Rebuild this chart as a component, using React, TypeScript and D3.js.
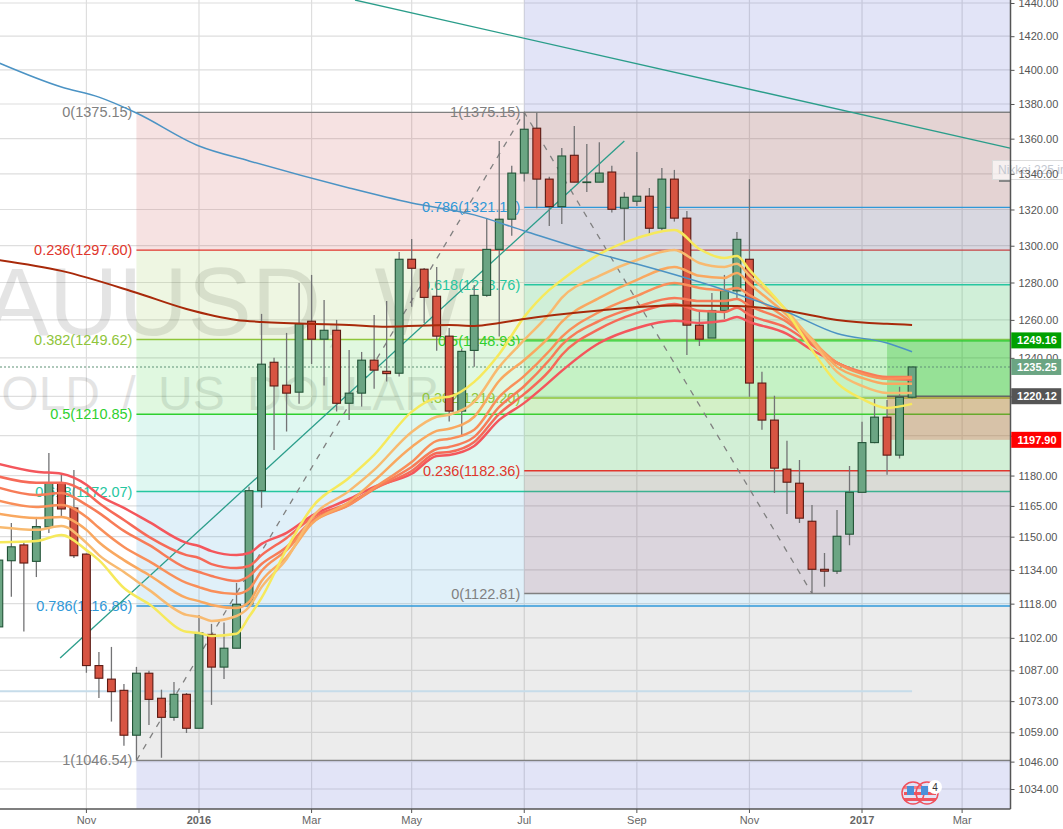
import React, { useEffect, useRef } from 'react';
import * as d3 from 'd3';

const WIDTH = 1063;
const HEIGHT = 829;
const PLOT_RIGHT = 1010.5;
const PLOT_BOTTOM = 809;

// weekly candles, index 0 is the first week on screen
const opens = [1107.1,1138.4,1146.0,1138.1,1154.7,1176.4,1164.0,1141.6,1089.2,1083.0,1077.9,1057.7,1085.7,1074.3,1065.7,1076.1,1060.8,1103.6,1088.5,1097.2,1117.8,1172.5,1237.7,1225.8,1222.2,1259.3,1249.8,1254.5,1216.5,1221.7,1238.8,1233.0,1232.0,1292.6,1287.2,1272.6,1251.4,1212.5,1243.9,1273.1,1298.0,1314.6,1340.4,1366.0,1337.0,1321.6,1350.5,1335.2,1335.3,1341.0,1320.7,1324.6,1327.4,1309.6,1337.0,1315.2,1257.2,1250.4,1265.0,1275.5,1292.6,1226.9,1207.9,1183.2,1176.2,1157.5,1134.3,1133.4,1151.2,1171.7,1196.5,1209.4,1190.2,1219.6];
const closes = [1138.7,1145.1,1137.3,1154.9,1176.4,1163.5,1140.8,1089.2,1083.4,1077.3,1057.7,1085.7,1073.8,1065.7,1076.1,1060.8,1104.3,1088.5,1097.2,1117.7,1172.5,1236.7,1225.4,1221.7,1257.9,1249.8,1254.5,1216.5,1221.7,1238.8,1233.6,1231.8,1292.6,1287.7,1272.0,1251.4,1212.5,1243.4,1273.1,1298.0,1314.6,1340.4,1365.4,1337.0,1321.6,1350.1,1335.3,1335.4,1340.4,1320.1,1326.8,1327.4,1309.6,1337.0,1315.2,1257.2,1249.8,1265.0,1275.6,1303.5,1226.9,1207.9,1183.7,1176.7,1159.0,1134.3,1133.4,1150.2,1171.7,1196.5,1209.4,1190.2,1219.6,1235.25];
const highs = [1148.4,1156.7,1147.6,1159.6,1191.3,1180.4,1182.8,1141.8,1095.5,1097.8,1080.8,1088.6,1086.8,1078.2,1081.7,1076.7,1112.7,1108.5,1109.1,1127.8,1174.5,1263.2,1240.1,1253.1,1279.8,1284.1,1270.6,1260.0,1244.1,1243.1,1262.6,1270.1,1296.5,1303.7,1287.9,1288.4,1255.7,1244.6,1278.7,1315.3,1358.7,1344.5,1375.15,1375.0,1338.3,1354.6,1367.3,1356.9,1358.0,1344.5,1329.6,1352.4,1332.0,1343.3,1342.2,1319.2,1264.8,1274.4,1284.1,1307.6,1337.0,1232.7,1220.4,1197.4,1187.8,1165.5,1142.1,1163.0,1184.8,1207.0,1218.7,1218.2,1225.0,1235.25];
const lows = [1103.9,1121.3,1105.0,1130.6,1151.8,1159.6,1139.7,1085.9,1074.4,1063.8,1053.0,1046.54,1062.3,1047.7,1064.2,1058.7,1060.8,1071.3,1083.0,1097.2,1117.8,1164.1,1192.8,1202.1,1216.2,1236.8,1225.6,1212.3,1208.0,1214.8,1224.0,1227.7,1230.3,1267.0,1258.4,1243.7,1207.2,1199.6,1235.4,1272.4,1251.2,1305.5,1335.6,1320.7,1310.9,1312.0,1335.3,1329.8,1335.3,1318.3,1302.8,1322.0,1306.1,1308.3,1313.3,1241.5,1246.2,1250.4,1260.5,1271.7,1219.8,1203.0,1171.4,1161.1,1156.7,1122.81,1126.0,1132.0,1145.9,1171.7,1196.2,1180.4,1188.5,1218.9];

// moving average ribbon, read at these weeks
const ribbonWeeks = [0,3,5,7,8,10,12,15,16,17,19,20,21,23,25,28,30,33,35,36,38,40,42,44,45,48,51,54,56,58,59,60,63,65,67,69,71,73];
const ribbonRed = [1185.8,1181.9,1180.9,1175.4,1170.4,1164.0,1157.2,1147.0,1145.5,1143.0,1141.1,1142.1,1146.5,1151.8,1160.1,1168.4,1174.4,1180.9,1189.8,1190.3,1194.8,1208.0,1216.7,1227.5,1233.2,1247.8,1255.7,1259.5,1258.4,1259.5,1261.6,1258.9,1252.6,1244.1,1237.4,1232.2,1229.6,1229.6];
const ribbonCoral = [1179.5,1176.4,1176.4,1171.4,1166.4,1158.1,1149.9,1141.1,1139.7,1136.8,1134.9,1135.9,1141.1,1149.4,1159.1,1166.4,1173.4,1182.3,1191.3,1191.8,1196.8,1211.1,1221.3,1233.2,1241.5,1255.2,1263.7,1268.5,1264.8,1264.2,1266.4,1262.6,1255.7,1246.8,1237.4,1232.2,1229.1,1228.6];
const ribbonSalmon = [1174.0,1170.4,1171.4,1165.5,1161.6,1152.8,1146.0,1134.9,1133.0,1131.1,1128.7,1131.1,1136.8,1145.0,1157.6,1165.5,1173.4,1184.3,1193.3,1194.3,1199.4,1214.6,1225.4,1238.9,1246.8,1259.5,1266.9,1271.7,1270.1,1270.1,1271.1,1267.4,1258.9,1247.8,1237.4,1232.7,1230.1,1230.1];
const ribbonOrange = [1167.6,1164.5,1165.5,1159.6,1154.3,1145.0,1138.2,1127.8,1125.8,1124.0,1122.6,1124.9,1133.5,1143.5,1156.7,1165.5,1173.9,1186.8,1197.4,1198.4,1203.0,1219.8,1230.6,1243.6,1251.0,1264.2,1272.8,1279.8,1277.1,1276.0,1277.1,1273.3,1260.5,1248.9,1237.4,1231.7,1229.1,1229.6];
const ribbonAmber = [1161.1,1159.1,1159.6,1153.3,1147.3,1138.7,1131.6,1120.7,1119.2,1117.4,1116.0,1118.8,1128.7,1140.2,1156.2,1166.9,1177.4,1194.3,1202.4,1203.5,1209.6,1228.1,1238.9,1251.0,1258.9,1271.7,1281.4,1288.4,1283.6,1282.5,1285.2,1279.3,1262.6,1249.9,1235.3,1229.6,1226.5,1226.5];
const ribbonPeach = [1154.6,1153.3,1155.2,1147.0,1141.1,1133.0,1124.5,1112.7,1111.8,1109.9,1112.2,1116.4,1125.8,1139.2,1159.1,1172.4,1182.8,1201.9,1209.6,1210.6,1217.2,1235.3,1249.4,1263.2,1271.7,1283.6,1292.2,1297.6,1290.6,1288.4,1290.1,1283.6,1264.8,1248.9,1232.7,1225.4,1221.8,1221.8];
const ribbonYellow = [1147.3,1147.9,1150.8,1143.5,1138.7,1125.4,1117.8,1104.8,1104.3,1102.9,1103.9,1111.8,1120.7,1144.0,1164.0,1178.9,1190.3,1212.1,1219.2,1219.8,1227.5,1242.0,1261.6,1276.0,1281.4,1295.4,1304.2,1308.7,1298.2,1293.3,1294.4,1286.8,1264.2,1244.1,1227.0,1218.7,1214.1,1216.2];

// slow averages
const blueWeeks = [0,5,8,11,16,20,28,33,38,42,48,51,58,63,67,71,73];
const blueValues = [1404.1,1389.9,1384.0,1374.8,1355.8,1347.3,1332.0,1323.6,1317.0,1308.1,1295.4,1290.0,1276.0,1264.2,1252.8,1247.8,1243.2];
const brownWeeks = [0,5,11,15,19,21,28,31,36,38,40,42,48,54,59,63,67,71,73];
const brownValues = [1292.2,1286.3,1274.5,1265.8,1260.0,1258.9,1257.3,1256.4,1257.3,1256.8,1258.4,1260.5,1265.0,1267.6,1267.4,1264.8,1260.0,1257.9,1257.3];

// fibonacci retracements
const bandColors = ['#c43a3a', '#8fc53a', '#2fd02f', '#26c6a0', '#2f98d8', '#808080'];
const leftFibLevels = [1375.15, 1297.6, 1249.62, 1210.85, 1172.07, 1116.86, 1046.54];
const leftFibLabels = ['0(1375.15)', '0.236(1297.60)', '0.382(1249.62)', '0.5(1210.85)', '0.618(1172.07)', '0.786(1116.86)', '1(1046.54)'];
const rightFibLevels = [1122.81, 1182.36, 1219.2, 1248.93, 1278.76, 1321.15, 1375.15];
const rightFibLabels = ['0(1122.81)', '0.236(1182.36)', '0.382(1219.20)', '0.5(1248.93)', '0.618(1278.76)', '0.786(1321.15)', '1(1375.15)'];
const lineColors = ['#808080', '#e0362c', '#8fc53a', '#2fd02f', '#26c6a0', '#2f98d8', '#808080'];

const priceTicks = [1440,1420,1400,1380,1360,1340,1320,1300,1280,1260,1240,1220,1200,1180,1165,1150,1134,1118,1102,1087,1073,1059,1046,1034];
const timeTickWeeks = [7, 16, 25, 33, 42, 51, 60, 69, 77];
const timeTickLabels = ['Nov', '2016', 'Mar', 'May', 'Jul', 'Sep', 'Nov', '2017', 'Mar'];

const lastPrice = 1235.25;
const targetPrice = 1249.16;
const entryPrice = 1220.12;
const stopPrice = 1197.9;
const flatLevel = 1077.5;

const App: React.FC = () => {
  const svgRef = useRef<SVGSVGElement>(null);

  useEffect(() => {
    if (!svgRef.current) return;
    const svg = d3.select(svgRef.current);
    svg.selectAll('*').remove();

    const x = d3.scaleLinear().domain([0, 73]).range([-1.16, 912.07]);
    const y = d3.scaleLog().domain([1440, 1034]).range([3, 789]);

    svg.append('defs').append('clipPath').attr('id', 'plot')
      .append('rect').attr('width', PLOT_RIGHT).attr('height', PLOT_BOTTOM);

    const g = svg.append('g').attr('clip-path', 'url(#plot)');

    // grid
    g.selectAll('line.h').data(priceTicks).join('line')
      .attr('x1', 0).attr('x2', PLOT_RIGHT)
      .attr('y1', d => y(d)).attr('y2', d => y(d))
      .attr('stroke', '#dedede').attr('stroke-width', 1.2);
    g.selectAll('line.v').data(timeTickWeeks).join('line')
      .attr('x1', d => x(d)).attr('x2', d => x(d))
      .attr('y1', 0).attr('y2', PLOT_BOTTOM)
      .attr('stroke', '#dedede').attr('stroke-width', 1.2);

    // lavender background pieces
    g.append('rect').attr('x', x(42)).attr('y', 0)
      .attr('width', PLOT_RIGHT - x(42)).attr('height', y(1375.15))
      .attr('fill', '#3f48cc').attr('opacity', 0.15);
    g.append('rect').attr('x', x(11)).attr('y', y(1046.54))
      .attr('width', PLOT_RIGHT - x(11)).attr('height', PLOT_BOTTOM - y(1046.54))
      .attr('fill', '#3f48cc').attr('opacity', 0.15);

    // watermark
    g.append('text').attr('x', -79).attr('y', 335)
      .attr('font-size', 96).attr('fill', '#000').attr('opacity', 0.1)
      .text('XAUUSD, W');
    g.append('text').attr('x', -36).attr('y', 410)
      .attr('font-size', 48).attr('fill', '#000').attr('opacity', 0.1)
      .attr('word-spacing', 9)
      .text('GOLD / US DOLLAR');

    const drawFib = (startWeek: number, levels: number[], labels: string[]) => {
      const left = x(startWeek);
      levels.slice(0, -1).forEach((lvl, i) => {
        const next = levels[i + 1];
        g.append('rect')
          .attr('x', left).attr('width', PLOT_RIGHT - left)
          .attr('y', Math.min(y(lvl), y(next)))
          .attr('height', Math.abs(y(next) - y(lvl)))
          .attr('fill', bandColors[i]).attr('opacity', 0.15);
      });
      levels.forEach((lvl, i) => {
        g.append('line')
          .attr('x1', left).attr('x2', PLOT_RIGHT)
          .attr('y1', y(lvl)).attr('y2', y(lvl))
          .attr('stroke', lineColors[i]).attr('stroke-width', 1.4);
        g.append('text')
          .attr('x', left - 4).attr('y', y(lvl)).attr('dy', '0.35em')
          .attr('text-anchor', 'end').attr('font-size', 14.5)
          .attr('fill', lineColors[i])
          .text(labels[i]);
      });
    };
    drawFib(11, leftFibLevels, leftFibLabels);
    drawFib(42, rightFibLevels, rightFibLabels);

    // position tool
    g.append('rect').attr('x', x(71)).attr('width', PLOT_RIGHT - x(71))
      .attr('y', y(targetPrice)).attr('height', y(entryPrice) - y(targetPrice))
      .attr('fill', '#00aa00').attr('opacity', 0.24);
    g.append('rect').attr('x', x(71)).attr('width', PLOT_RIGHT - x(71))
      .attr('y', y(entryPrice)).attr('height', y(stopPrice) - y(entryPrice))
      .attr('fill', '#e63c1e').attr('opacity', 0.25);
    g.append('line').attr('x1', x(71)).attr('x2', PLOT_RIGHT)
      .attr('y1', y(entryPrice)).attr('y2', y(entryPrice))
      .attr('stroke', '#666').attr('stroke-width', 1.4);

    // last price and the flat level
    g.append('line').attr('x1', 0).attr('x2', PLOT_RIGHT)
      .attr('y1', y(lastPrice)).attr('y2', y(lastPrice))
      .attr('stroke', '#5f9277').attr('stroke-width', 1.1).attr('stroke-dasharray', '2,2');
    g.append('line').attr('x1', 0).attr('x2', x(73))
      .attr('y1', y(flatLevel)).attr('y2', y(flatLevel))
      .attr('stroke', '#c6dcea').attr('stroke-width', 2);

    // trend lines
    const plain = d3.line<number[]>().x(d => x(d[0])).y(d => y(d[1]));
    g.append('path').attr('d', plain([[11, 1046.54], [42, 1375.15], [65, 1122.81]]))
      .attr('fill', 'none').attr('stroke', '#808080').attr('stroke-width', 1.3).attr('stroke-dasharray', '6,7');
    g.append('path').attr('d', plain([[4.9, 1092.7], [50, 1358.7]]))
      .attr('fill', 'none').attr('stroke', '#2a9d8a').attr('stroke-width', 1.3);
    g.append('path').attr('d', plain([[28.47, 1441.8], [80.83, 1354.6]]))
      .attr('fill', 'none').attr('stroke', '#2a9d8a').attr('stroke-width', 1.3);

    // wicks then bodies
    const weeks = d3.range(opens.length);
    g.selectAll('line.wick').data(weeks).join('line')
      .attr('x1', d => x(d)).attr('x2', d => x(d))
      .attr('y1', d => y(highs[d])).attr('y2', d => y(lows[d]))
      .attr('stroke', '#737375').attr('stroke-width', 1.3);
    g.selectAll('rect.body').data(weeks).join('rect')
      .attr('x', d => x(d) - 3.9).attr('width', 7.8)
      .attr('y', d => y(Math.max(opens[d], closes[d])))
      .attr('height', d => Math.max(0.6, Math.abs(y(opens[d]) - y(closes[d]))))
      .attr('fill', d => closes[d] >= opens[d] ? '#6ba583' : '#d75442')
      .attr('stroke', d => closes[d] >= opens[d] ? '#225437' : '#5b1a13')
      .attr('stroke-width', 1.1);

    // averages
    const series = d3.line<number>().x((_, i) => x(ribbonWeeks[i])).y(d => y(d)).curve(d3.curveMonotoneX);
    const ribbon: [number[], string][] = [
      [ribbonRed, '#f4565c'],
      [ribbonCoral, '#f66a58'],
      [ribbonSalmon, '#f77c58'],
      [ribbonOrange, '#f98f5a'],
      [ribbonAmber, '#f9a860'],
      [ribbonPeach, '#f8ba70'],
      [ribbonYellow, '#f6e95c'],
    ];
    ribbon.forEach(([values, color]) => {
      g.append('path').attr('d', series(values))
        .attr('fill', 'none').attr('stroke', color).attr('stroke-width', 2.5);
    });
    const blue = d3.line<number>().x((_, i) => x(blueWeeks[i])).y(d => y(d)).curve(d3.curveMonotoneX);
    g.append('path').attr('d', blue(blueValues))
      .attr('fill', 'none').attr('stroke', '#4b93c4').attr('stroke-width', 1.5);
    const brown = d3.line<number>().x((_, i) => x(brownWeeks[i])).y(d => y(d)).curve(d3.curveMonotoneX);
    g.append('path').attr('d', brown(brownValues))
      .attr('fill', 'none').attr('stroke', '#a8290a').attr('stroke-width', 2);

    // news event marks
    const flag = g.append('g');
    [913, 927].forEach(cx => {
      flag.append('rect').attr('x', cx - 9).attr('y', 786).attr('width', 18).attr('height', 3).attr('fill', '#f2838a');
      flag.append('rect').attr('x', cx - 9).attr('y', 792).attr('width', 18).attr('height', 3).attr('fill', '#ee5560');
      flag.append('rect').attr('x', cx - 9).attr('y', 798).attr('width', 18).attr('height', 3).attr('fill', '#ee5560');
      flag.append('rect').attr('x', cx - 6).attr('y', 786).attr('width', 7).attr('height', 9).attr('fill', '#4a90d9');
      flag.append('circle').attr('cx', cx).attr('cy', 793).attr('r', 11)
        .attr('fill', 'none').attr('stroke', '#f0505c').attr('stroke-width', 1.5);
    });
    flag.append('circle').attr('cx', 935).attr('cy', 787).attr('r', 7).attr('fill', '#fff');
    flag.append('text').attr('x', 935).attr('y', 787).attr('dy', '0.35em')
      .attr('text-anchor', 'middle').attr('font-size', 10).attr('fill', '#333').text('4');

    // hovering tip behind the scale
    svg.append('rect').attr('x', 999).attr('y', 180).attr('width', 11).attr('height', 2).attr('fill', '#888');
    svg.append('rect').attr('x', 992.5).attr('y', 160.5).attr('width', 80).attr('height', 19)
      .attr('fill', '#fff').attr('fill-opacity', 0.65).attr('stroke', '#ddd');
    svg.append('text').attr('x', 998).attr('y', 174).attr('font-size', 12).attr('fill', '#c4c8d0')
      .text('Nikkei 225 index');

    // axes
    svg.append('line').attr('x1', PLOT_RIGHT).attr('x2', PLOT_RIGHT).attr('y1', 0).attr('y2', PLOT_BOTTOM)
      .attr('stroke', '#555').attr('stroke-width', 1.5);
    svg.append('line').attr('x1', 0).attr('x2', PLOT_RIGHT).attr('y1', PLOT_BOTTOM).attr('y2', PLOT_BOTTOM)
      .attr('stroke', '#555').attr('stroke-width', 1.5);

    const yAxis = svg.append('g').attr('transform', `translate(${PLOT_RIGHT},0)`)
      .call(d3.axisRight(y).tickValues(priceTicks).tickFormat(d => d3.format('.2f')(Number(d))).tickSize(4).tickPadding(4));
    yAxis.select('.domain').remove();
    yAxis.selectAll('text').attr('font-size', 11).attr('font-family', '"Liberation Sans"').attr('fill', '#555');
    yAxis.selectAll('line').attr('stroke', '#555');

    timeTickWeeks.forEach((w, i) => {
      svg.append('line').attr('x1', x(w)).attr('x2', x(w)).attr('y1', PLOT_BOTTOM).attr('y2', PLOT_BOTTOM + 4).attr('stroke', '#555');
      const isYear = /^\d+$/.test(timeTickLabels[i]);
      svg.append('text').attr('x', x(w)).attr('y', 824)
        .attr('text-anchor', 'middle').attr('font-size', 11)
        .attr('font-weight', isYear ? 'bold' : 'normal')
        .attr('fill', '#666')
        .text(timeTickLabels[i]);
    });

    // price badges
    const badges: [number, string][] = [
      [targetPrice, '#00a000'],
      [lastPrice, '#6ba583'],
      [entryPrice, '#555555'],
      [stopPrice, '#ff0000'],
    ];
    badges.forEach(([price, color]) => {
      svg.append('rect').attr('x', PLOT_RIGHT + 0.75).attr('y', y(price) - 8)
        .attr('width', 50).attr('height', 16).attr('fill', color);
      svg.append('text').attr('x', 1037).attr('y', y(price)).attr('dy', '0.36em')
        .attr('text-anchor', 'middle').attr('font-size', 11).attr('font-weight', 'bold')
        .attr('fill', '#fff').text(d3.format('.2f')(price));
    });
  }, []);

  return (
    <svg
      ref={svgRef}
      width={WIDTH}
      height={HEIGHT}
      style={{ position: 'absolute', left: 0, top: 0, background: '#fff', fontFamily: '"Liberation Sans", Arial, sans-serif' }}
    />
  );
};

export default App;
